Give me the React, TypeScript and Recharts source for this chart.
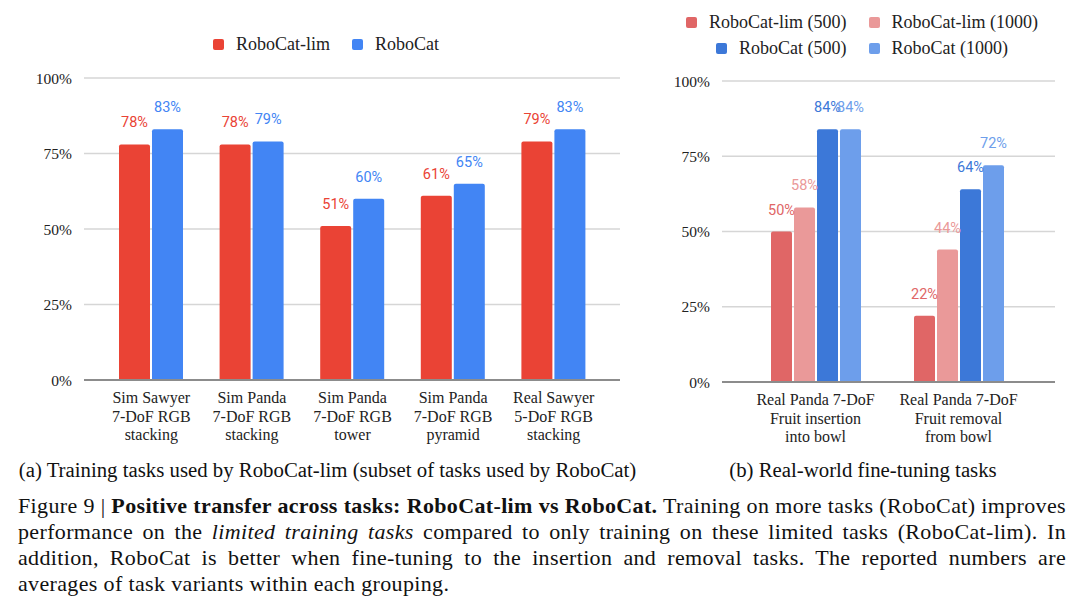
import { BarChart, Bar, XAxis, YAxis, CartesianGrid, LabelList } from "recharts"

// ─── Data ────────────────────────────────────────────────────────────────────

const TRAIN_TASKS = [
    "Sim Sawyer\n7-DoF RGB\nstacking",
    "Sim Panda\n7-DoF RGB\nstacking",
    "Sim Panda\n7-DoF RGB\ntower",
    "Sim Panda\n7-DoF RGB\npyramid",
    "Real Sawyer\n5-DoF RGB\nstacking",
]
const LIM_SCORES = [78, 78, 51, 61, 79]
const FULL_SCORES = [83, 79, 60, 65, 83]

const FINETUNE_TASKS = [
    "Real Panda 7-DoF\nFruit insertion\ninto bowl",
    "Real Panda 7-DoF\nFruit removal\nfrom bowl",
]
const LIM_500 = [50, 22]
const LIM_1000 = [58, 44]
const FULL_500 = [84, 64]
const FULL_1000 = [84, 72]

const Y_TICKS = [0, 25, 50, 75, 100]

// ─── Style ───────────────────────────────────────────────────────────────────

const RED = "#ea4335"
const BLUE = "#4285f4"
const C_LIM_500 = "#e06666"
const C_LIM_1000 = "#ea9999"
const C_FULL_500 = "#3c78d8"
const C_FULL_1000 = "#6d9eeb"

const SERIF = "Liberation Serif, serif"
const LABEL_FONT = "Roboto, sans-serif"

const trainData = TRAIN_TASKS.map((task, i) => ({ task, lim: LIM_SCORES[i], full: FULL_SCORES[i] }))
const fineData = FINETUNE_TASKS.map((task, i) => ({
    task,
    lim500: LIM_500[i],
    lim1000: LIM_1000[i],
    full500: FULL_500[i],
    full1000: FULL_1000[i],
}))

const pct = (v: any) => `${v}%`

function CategoryTick({ x, y, payload }: any) {
    const lines = String(payload.value).split("\n")
    return (
        <text x={x} y={y} textAnchor="middle" fontFamily={SERIF} fontSize={16} fill="#222">
            {lines.map((line, i) => (
                <tspan key={i} x={x} dy={i === 0 ? 23 : 18.5}>
                    {line}
                </tspan>
            ))}
        </text>
    )
}

const Y_AXIS_PROPS = {
    type: "number" as const,
    domain: [0, 100],
    ticks: Y_TICKS,
    tickFormatter: pct,
    axisLine: false,
    tickLine: false,
    tickSize: 0,
    tickMargin: 12,
    tick: { fontFamily: SERIF, fontSize: 15.5, fill: "#222" },
    interval: 0 as const,
}

// label drawn above each bar, in the series colour
const barLabel = (key: string, color: string) => (
    <LabelList dataKey={key} position="top" offset={17} formatter={pct} fill={color} fontSize={14.5} fontFamily={LABEL_FONT} />
)

function LegendItem({ color, label }: { color: string; label: string }) {
    return (
        <span style={{ display: "inline-flex", alignItems: "center", gap: 12 }}>
            <span style={{ width: 11, height: 11, background: color, borderRadius: 2, display: "inline-block" }} />
            <span>{label}</span>
        </span>
    )
}

const legendRow = {
    position: "absolute" as const,
    display: "flex",
    justifyContent: "center",
    gap: 22,
    fontFamily: SERIF,
    fontSize: 18,
    color: "#222",
    lineHeight: "20px",
    whiteSpace: "nowrap" as const,
}

const subCaption = {
    fontFamily: SERIF,
    fontSize: 20.8,
    lineHeight: "26px",
    color: "#111",
}

const captionLine = {
    fontFamily: SERIF,
    fontSize: 22,
    letterSpacing: 0.35,
    lineHeight: "26px",
    color: "#111",
    textAlign: "justify" as const,
    textAlignLast: "justify" as const,
    whiteSpace: "nowrap" as const,
}

export default function App() {
    return (
        <div style={{ position: "absolute", top: 0, left: 0, width: 1080, height: 611, background: "#fff", overflow: "hidden" }}>
            {/* left legend */}
            <div style={{ ...legendRow, left: 126, width: 400, top: 34 }}>
                <LegendItem color={RED} label="RoboCat-lim" />
                <LegendItem color={BLUE} label="RoboCat" />
            </div>

            {/* right legend */}
            <div style={{ ...legendRow, left: 662, width: 400, top: 12 }}>
                <LegendItem color={C_LIM_500} label="RoboCat-lim (500)" />
                <LegendItem color={C_LIM_1000} label="RoboCat-lim (1000)" />
            </div>
            <div style={{ ...legendRow, left: 662, width: 400, top: 38 }}>
                <LegendItem color={C_FULL_500} label="RoboCat (500)" />
                <LegendItem color={C_FULL_1000} label="RoboCat (1000)" />
            </div>

            {/* (a) training tasks */}
            <div style={{ position: "absolute", left: 0, top: 0 }}>
                <BarChart
                    width={640}
                    height={460}
                    data={trainData}
                    margin={{ top: 78, right: 20, left: 0, bottom: 0 }}
                    barSize={31}
                    barGap={2}
                >
                    <CartesianGrid vertical={false} stroke="#d6d6d6" strokeWidth={1.3} />
                    <XAxis
                        dataKey="task"
                        height={80}
                        interval={0}
                        tickLine={false}
                        tickSize={0}
                        tickMargin={0}
                        axisLine={{ stroke: "#8c8c8c", strokeWidth: 2 }}
                        padding={{ left: 17, right: 16 }}
                        tick={<CategoryTick />}
                    />
                    <YAxis width={84} {...Y_AXIS_PROPS} />
                    <Bar dataKey="lim" fill={RED} radius={[2, 2, 0, 0]} isAnimationActive={false}>
                        {barLabel("lim", RED)}
                    </Bar>
                    <Bar dataKey="full" fill={BLUE} radius={[2, 2, 0, 0]} isAnimationActive={false}>
                        {barLabel("full", BLUE)}
                    </Bar>
                </BarChart>
            </div>

            {/* (b) real-world fine-tuning */}
            <div style={{ position: "absolute", left: 640, top: 0 }}>
                <BarChart
                    width={440}
                    height={462}
                    data={fineData}
                    margin={{ top: 81, right: 25, left: 0, bottom: 0 }}
                    barSize={21}
                    barGap={2}
                >
                    <CartesianGrid vertical={false} stroke="#d6d6d6" strokeWidth={1.3} />
                    <XAxis
                        dataKey="task"
                        height={80}
                        interval={0}
                        tickLine={false}
                        tickSize={0}
                        tickMargin={0}
                        axisLine={{ stroke: "#8c8c8c", strokeWidth: 2 }}
                        padding={{ left: 22, right: 25 }}
                        tick={<CategoryTick />}
                    />
                    <YAxis width={82} {...Y_AXIS_PROPS} />
                    <Bar dataKey="lim500" fill={C_LIM_500} radius={[2, 2, 0, 0]} isAnimationActive={false}>
                        {barLabel("lim500", C_LIM_500)}
                    </Bar>
                    <Bar dataKey="lim1000" fill={C_LIM_1000} radius={[2, 2, 0, 0]} isAnimationActive={false}>
                        {barLabel("lim1000", C_LIM_1000)}
                    </Bar>
                    <Bar dataKey="full500" fill={C_FULL_500} radius={[2, 2, 0, 0]} isAnimationActive={false}>
                        {barLabel("full500", C_FULL_500)}
                    </Bar>
                    <Bar dataKey="full1000" fill={C_FULL_1000} radius={[2, 2, 0, 0]} isAnimationActive={false}>
                        {barLabel("full1000", C_FULL_1000)}
                    </Bar>
                </BarChart>
            </div>

            {/* sub-captions */}
            <div style={{ ...subCaption, position: "absolute", left: 0, width: 655, top: 457, textAlign: "center" }}>
                (a) Training tasks used by RoboCat-lim (subset of tasks used by RoboCat)
            </div>
            <div style={{ ...subCaption, position: "absolute", left: 680, width: 366, top: 457, textAlign: "center" }}>
                (b) Real-world fine-tuning tasks
            </div>

            {/* figure caption */}
            <div style={{ position: "absolute", left: 18, width: 1048, top: 493 }}>
                <div style={captionLine}>
                    Figure 9 | <b>Positive transfer across tasks: RoboCat-lim vs RoboCat.</b> Training on more tasks (RoboCat) improves
                </div>
                <div style={captionLine}>
                    performance on the <i>limited training tasks</i> compared to only training on these limited tasks (RoboCat-lim). In
                </div>
                <div style={captionLine}>
                    addition, RoboCat is better when fine-tuning to the insertion and removal tasks. The reported numbers are
                </div>
                <div style={{ ...captionLine, textAlignLast: "left" as const }}>averages of task variants within each grouping.</div>
            </div>
        </div>
    )
}
